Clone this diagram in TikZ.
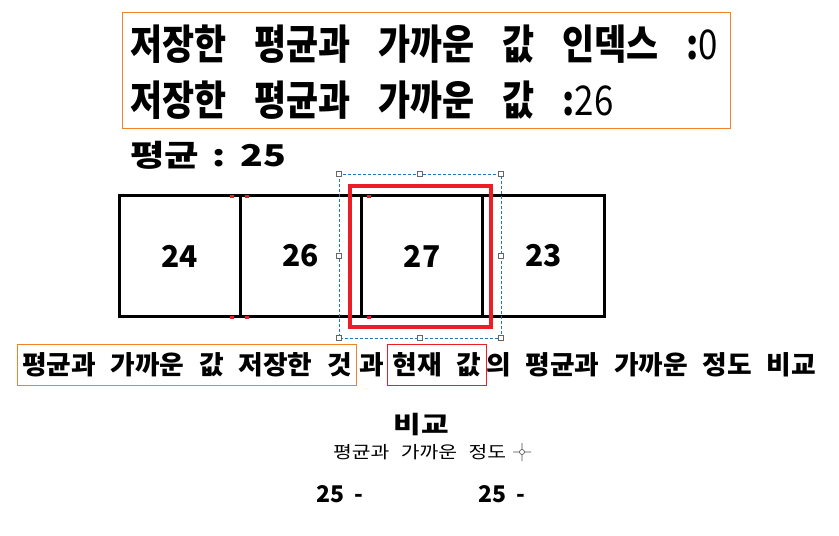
\documentclass[tikz,border=0pt]{standalone}
\usepackage{fontspec}
\setmainfont{Noto Sans CJK KR}
\newfontfamily\topfont{Noto Sans CJK KR}[FakeStretch=0.85, WordSpace=3.5]
\newfontfamily\avgfont{Noto Sans CJK KR}[FakeStretch=1.25, WordSpace=1.5]
\newfontfamily\linefont{Noto Sans CJK KR}[FakeStretch=1.03, WordSpace=2.4]
\newfontfamily\smallfont{Noto Sans CJK KR}[FakeStretch=1.2, WordSpace=2.5]
\newfontfamily\numfont{Noto Sans CJK KR}[WordSpace=2]
\usetikzlibrary{positioning,calc}
\definecolor{hlorange}{RGB}{240,130,40}
\definecolor{hlred}{RGB}{235,30,40}
\definecolor{selblue}{RGB}{30,120,200}

\begin{document}
\begin{tikzpicture}[x=1pt, y=-1pt,
    cell/.style={rectangle, draw=black, line width=3pt, outer sep=0pt, inner sep=0pt,
                 minimum width=121.25pt, minimum height=121pt,
                 font=\numfont\bfseries\fontsize{30}{32}\selectfont},
    infobox/.style={rectangle, draw=hlorange, line width=1pt, anchor=north west,
                    minimum width=608pt, minimum height=116pt},
    toptext/.style={anchor=west, inner sep=0pt, font=\topfont\bfseries\fontsize{41}{43}\selectfont},
    avgtext/.style={anchor=west, inner sep=0pt, font=\avgfont\bfseries\fontsize{30}{32}\selectfont},
    linetext/.style={inner xsep=5pt, inner ysep=0pt, outer sep=0pt, minimum height=41pt,
                     font=\linefont\bfseries\fontsize{26}{28}\selectfont},
    tick/.style={fill=hlred, minimum width=4pt, minimum height=3pt, inner sep=0pt},
    handle/.style={rectangle, draw=black!60, fill=white, line width=0.8pt,
                   minimum size=5pt, inner sep=0pt},
    numtext/.style={inner sep=0pt, font=\numfont\bfseries\fontsize{23}{25}\selectfont}
  ]
  \useasboundingbox (0,0) rectangle (839,536);

  %% Stored values box
  \node[infobox] (info) at (122,12) {};
  \node[toptext] (idx) at (130,44.5) {저장한 평균과 가까운 값 인덱스 :{\mdseries 0}};
  \node[toptext] (val) at (130,100) {저장한 평균과 가까운 값 :{\mdseries 26}};

  %% Average
  \node[avgtext] (avg) at (130,155) {평균 : 25};

  %% Array cells
  \node[cell, anchor=west] (c1) at (119,256) {24};
  \node[cell, right=0pt of c1] (c2) {26};
  \node[cell, right=0pt of c2] (c3) {27};
  \node[cell, right=0pt of c3] (c4) {23};

  %% Small red marks on the cell borders
  \foreach \x in {232,247,369} {
    \node[tick] at (\x,196) {};
    \node[tick] at (\x,317) {};
  }

  %% Current element highlight
  \draw[hlred, line width=4pt] (350,186) rectangle (491,327);

  %% Selection frame with handles
  \draw[selblue, line width=0.8pt, dash pattern=on 3pt off 2pt] (339,174) rectangle (501,338);
  \foreach \x/\y in {339/174,420/174,501/174,339/256,501/256,339/338,420/338,501/338}
    \node[handle] at (\x,\y) {};

  %% Comparison sentence
  \node[linetext, draw=hlorange, line width=1pt, anchor=west] (saved) at (17,364.5)
        {평균과 가까운 값 저장한 것};
  \node[linetext, inner xsep=3pt, right=0pt of saved] (join) {과};
  \node[linetext, draw=hlred, line width=1pt, right=0pt of join] (cur) {현재 값};
  \node[linetext, inner xsep=0pt, right=0pt of cur] (rest) {의 평균과 가까운 정도 비교};

  %% Comparison
  \node[inner sep=0pt, font=\avgfont\bfseries\fontsize{24}{26}\selectfont] (cmp) at (421,425) {비교};
  \node[inner sep=0pt, anchor=west, font=\smallfont\fontsize{17}{19}\selectfont] (dist) at (333,452)
        {평균과 가까운 정도};
  \coordinate (pin) at (522,452);
  \draw[black!70, line width=0.6pt] (pin) circle (2.5pt)
        ($(pin)+(-9,0)$) -- ++(6.5,0) ($(pin)+(9,0)$) -- ++(-6.5,0)
        ($(pin)+(0,-9)$) -- ++(0,6.5) ($(pin)+(0,9)$) -- ++(0,-6.5);
  \node[numtext, anchor=west] (left) at (316,494) {25 -};
  \node[numtext, anchor=west] (right) at (478,494) {25 -};

\end{tikzpicture}
\end{document}
